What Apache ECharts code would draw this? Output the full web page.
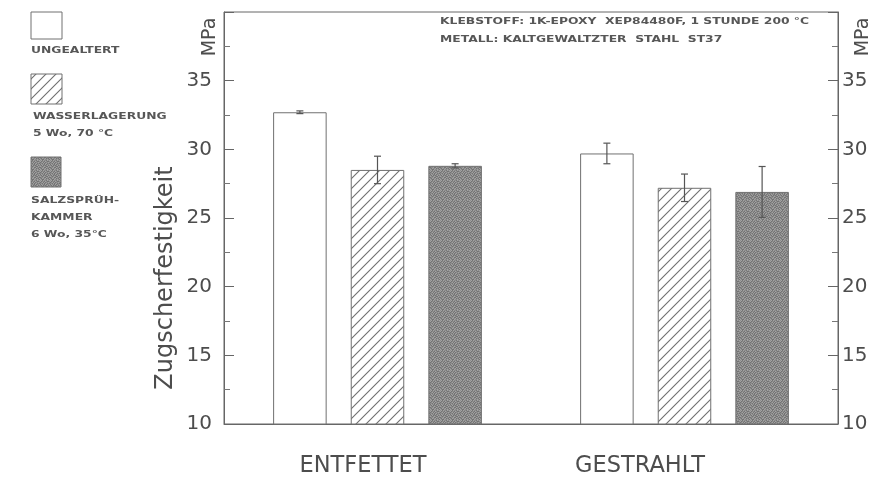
<!DOCTYPE html>
<html>
<head>
<meta charset="utf-8">
<script src="https://cdn.jsdelivr.net/npm/echarts@6/dist/echarts.min.js"></script>
<style>
  html, body { margin: 0; padding: 0; background: #fff; }
  #chart { width: 892px; height: 487px; }
</style>
</head>
<body>
<div id="chart"></div>
<script>
// Surface pre-treatment groups on the category axis
const categories = ['ENTFETTET', 'GESTRAHLT'];

// Ageing conditions (one bar series each)
const seriesNames = ['UNGEALTERT', 'WASSERLAGERUNG', 'SALZSPRÜHKAMMER'];

// Mean tensile shear strength in MPa, per group
const ungealtert = [32.7, 29.7];
const wasserlagerung = [28.5, 27.2];
const salzspruehkammer = [28.8, 26.9];

// Half-width of the scatter band (± MPa)
const errUngealtert = [0.1, 0.75];
const errWasser = [1.0, 1.0];
const errSalz = [0.15, 1.85];

// Value axis ticks
const yTicks = [10, 15, 20, 25, 30, 35];

const barValues = [ungealtert, wasserlagerung, salzspruehkammer];
const barErrors = [errUngealtert, errWasser, errSalz];

const CAT_GAP = 0.32;
const BAR_GAP = 0.45;

// Fill textures
function hatchPattern() {
  const c = document.createElement('canvas');
  c.width = 10; c.height = 10;
  const g = c.getContext('2d');
  g.fillStyle = '#ffffff';
  g.fillRect(0, 0, 10, 10);
  g.strokeStyle = '#707070';
  g.lineWidth = 1.1;
  g.beginPath();
  g.moveTo(-1, 11); g.lineTo(11, -1);
  g.moveTo(-6, 6); g.lineTo(6, -6);
  g.moveTo(4, 16); g.lineTo(16, 4);
  g.stroke();
  return { image: c, repeat: 'repeat' };
}

function stipplePattern() {
  const rows = [
    '1202110212',
    '2011021001',
    '0120201121',
    '1102012010',
    '0211020112',
    '1020101201',
    '2101210021',
    '0112002110',
    '1021120102',
    '2100211210'
  ];
  const shades = ['#737373', '#8b8b8b', '#a2a2a2'];
  const c = document.createElement('canvas');
  c.width = 10; c.height = 10;
  const g = c.getContext('2d');
  rows.forEach((row, y) => {
    for (let x = 0; x < row.length; x++) {
      g.fillStyle = shades[+row[x]];
      g.fillRect(x, y, 1, 1);
    }
  });
  return { image: c, repeat: 'repeat' };
}

const fills = ['#ffffff', hatchPattern(), stipplePattern()];
const BORDER = '#707070';
const TEXT = '#4d4d4d';

const chart = echarts.init(document.getElementById('chart'), null, { renderer: 'canvas' });

// Error bars: [category index, low, high, series index]
const errData = [];
barValues.forEach((vals, s) => {
  vals.forEach((v, i) => {
    errData.push([i, v - barErrors[s][i], v + barErrors[s][i], s]);
  });
});

function renderErr(params, api) {
  const cat = api.value(0);
  const s = api.value(3);
  const band = api.size([1, 0])[0];
  const n = barValues.length;
  const w = band * (1 - CAT_GAP) / (n + (n - 1) * BAR_GAP);
  const offset = (s - (n - 1) / 2) * w * (1 + BAR_GAP);
  const lo = api.coord([cat, api.value(1)]);
  const hi = api.coord([cat, api.value(2)]);
  const x = lo[0] + offset;
  const cap = 3.5;
  const style = { stroke: '#555', lineWidth: 1.2, fill: null };
  return {
    type: 'group',
    children: [
      { type: 'line', shape: { x1: x, y1: lo[1], x2: x, y2: hi[1] }, style },
      { type: 'line', shape: { x1: x - cap, y1: lo[1], x2: x + cap, y2: lo[1] }, style },
      { type: 'line', shape: { x1: x - cap, y1: hi[1], x2: x + cap, y2: hi[1] }, style }
    ]
  };
}

const valueAxisBase = {
  type: 'value',
  min: 10,
  max: 40,
  interval: 5,
  axisLine: { show: true, lineStyle: { color: '#666', width: 1 } },
  axisTick: { show: true, inside: true, length: 10, lineStyle: { color: '#666' } },
  minorTick: { show: true, splitNumber: 2, length: 6, lineStyle: { color: '#777' } },
  splitLine: { show: false },
  axisLabel: {
    fontFamily: 'DejaVu Sans',
    fontSize: 20,
    color: TEXT,
    formatter: v => (yTicks.indexOf(v) >= 0 ? String(v) : '')
  }
};

const barSeries = seriesNames.map((name, s) => ({
  name,
  type: 'bar',
  data: barValues[s],
  barGap: (BAR_GAP * 100) + '%',
  barCategoryGap: (CAT_GAP * 100) + '%',
  itemStyle: { color: fills[s], borderColor: BORDER, borderWidth: 1 },
  emphasis: { disabled: true },
  animation: false
}));

const smallText = (text, x, y) => ({
  type: 'text',
  x, y,
  scaleX: 1.37,
  style: {
    text,
    fontFamily: 'DejaVu Sans',
    fontWeight: 'bold',
    fontSize: 9,
    fill: '#575757',
    textVerticalAlign: 'middle'
  }
});

const legendBox = (x, y, w, h, fill) => ({
  type: 'rect',
  shape: { x, y, width: w, height: h },
  style: { fill, stroke: BORDER, lineWidth: 1 }
});

chart.setOption({
  animation: false,
  backgroundColor: '#ffffff',
  grid: {
    left: 224, right: 54, top: 12, bottom: 63,
    show: true, borderColor: '#666', borderWidth: 1, backgroundColor: 'transparent'
  },
  xAxis: {
    type: 'category',
    data: categories,
    axisLine: { show: true, lineStyle: { color: '#666' } },
    axisTick: { show: false },
    axisLabel: {
      margin: 31,
      formatter: (v, i) => '{c' + i + '|' + v + '}',
      rich: {
        c0: { fontFamily: 'DejaVu Sans', fontSize: 22.5, color: TEXT, padding: [0, 29, 0, 0] },
        c1: { fontFamily: 'DejaVu Sans', fontSize: 22.5, color: TEXT, padding: [0, 89, 0, 0] }
      }
    }
  },
  yAxis: [
    Object.assign({}, valueAxisBase, {
      position: 'left',
      axisLabel: Object.assign({}, valueAxisBase.axisLabel, { margin: 12 })
    }),
    Object.assign({}, valueAxisBase, {
      position: 'right',
      axisLabel: Object.assign({}, valueAxisBase.axisLabel, { margin: 4 })
    })
  ],
  series: barSeries.concat([{
    type: 'custom',
    name: 'streuung',
    renderItem: renderErr,
    encode: { x: 0, y: [1, 2] },
    data: errData,
    z: 5,
    silent: true
  }]),
  graphic: [
    // Axis titles
    {
      type: 'text', x: 166, y: 278, rotation: Math.PI / 2,
      style: { text: 'Zugscherfestigkeit', fontFamily: 'DejaVu Sans', fontSize: 24, fill: TEXT, textAlign: 'center', textVerticalAlign: 'middle' }
    },
    {
      type: 'text', x: 210, y: 37, rotation: Math.PI / 2,
      style: { text: 'MPa', fontFamily: 'DejaVu Sans', fontSize: 19, fill: TEXT, textAlign: 'center', textVerticalAlign: 'middle' }
    },
    {
      type: 'text', x: 863, y: 37, rotation: Math.PI / 2,
      style: { text: 'MPa', fontFamily: 'DejaVu Sans', fontSize: 19, fill: TEXT, textAlign: 'center', textVerticalAlign: 'middle' }
    },
    // Test conditions
    smallText('KLEBSTOFF: 1K-EPOXY  XEP84480F, 1 STUNDE 200 °C', 440, 22),
    smallText('METALL: KALTGEWALTZTER  STAHL  ST37', 440, 40),
    // Legend
    legendBox(31, 12, 31, 27, fills[0]),
    smallText('UNGEALTERT', 31, 51),
    legendBox(31, 74, 31, 30, fills[1]),
    smallText('WASSERLAGERUNG', 33, 117),
    smallText('5 Wo, 70 °C', 33, 134),
    legendBox(31, 157, 30, 30, fills[2]),
    smallText('SALZSPRÜH-', 31, 201),
    smallText('KAMMER', 31, 218),
    smallText('6 Wo, 35°C', 31, 235)
  ]
});
</script>
</body>
</html>
